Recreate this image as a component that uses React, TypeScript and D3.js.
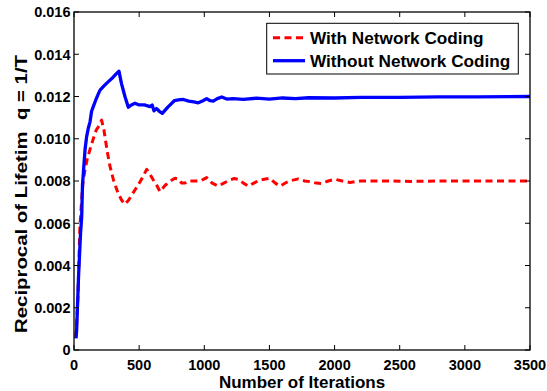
import React from "react";
import * as d3 from "d3";

// iterations and reciprocal lifetime
const codingIter = [15, 30, 45, 60, 70, 84, 100, 123, 148, 170, 187, 212, 230, 255, 276, 305, 340, 365, 391, 420, 450, 481, 520, 558, 585, 609, 635, 660, 700, 740, 775, 800, 826, 850, 877, 929, 970, 1018, 1060, 1107, 1150, 1197, 1230, 1261, 1300, 1338, 1380, 1427, 1504, 1545, 1581, 1650, 1722, 1770, 1811, 1860, 1901, 1950, 2003, 2060, 2118, 2200, 2400, 2600, 2800, 3000, 3200, 3500];
const codingQ = [0.0006, 0.0025, 0.0058, 0.0072, 0.008, 0.0085, 0.009, 0.0095, 0.01, 0.0104, 0.01057, 0.01088, 0.0104, 0.0094, 0.0087, 0.008, 0.0074, 0.0071, 0.0069, 0.0071, 0.0074, 0.0077, 0.0081, 0.00855, 0.0083, 0.00805, 0.0078, 0.0075, 0.0078, 0.008, 0.00813, 0.0081, 0.0079, 0.0079, 0.008, 0.008, 0.008, 0.00816, 0.0079, 0.00776, 0.0079, 0.00805, 0.00812, 0.00808, 0.0079, 0.00776, 0.0079, 0.00805, 0.00813, 0.0079, 0.00776, 0.008, 0.0081, 0.008, 0.00797, 0.0079, 0.00788, 0.008, 0.00808, 0.008, 0.00793, 0.008, 0.008, 0.00798, 0.008, 0.008, 0.008, 0.008];

const plainIter = [15, 20, 35, 50, 59, 65, 72, 85, 97, 110, 123, 135, 148, 165, 185, 200, 230, 260, 290, 320, 345, 365, 391, 417, 440, 468, 500, 540, 583, 600, 614, 634, 655, 678, 720, 770, 814, 840, 880, 920, 954, 990, 1018, 1045, 1069, 1100, 1134, 1172, 1220, 1300, 1400, 1500, 1600, 1700, 1800, 2000, 2200, 2500, 2800, 3100, 3500];
const plainQ = [0.00055, 0.0009, 0.0035, 0.0055, 0.0063, 0.0078, 0.0084, 0.0095, 0.0101, 0.0105, 0.0108, 0.0113, 0.01152, 0.0118, 0.0121, 0.0123, 0.0125, 0.01268, 0.01285, 0.01305, 0.0132, 0.0126, 0.012, 0.01149, 0.0116, 0.01168, 0.0116, 0.0116, 0.01152, 0.0116, 0.01132, 0.01143, 0.0113, 0.0112, 0.0115, 0.0118, 0.01185, 0.01186, 0.01178, 0.01174, 0.0117, 0.0118, 0.0119, 0.0118, 0.01178, 0.0119, 0.01198, 0.01188, 0.0119, 0.01186, 0.01192, 0.01188, 0.01193, 0.0119, 0.01194, 0.01193, 0.01196, 0.01196, 0.01198, 0.01198, 0.012];

const seriesNames = ["With Network Coding", "Without Network Coding"];
const xTicks = [0, 500, 1000, 1500, 2000, 2500, 3000, 3500];
const yTicks = [0, 0.002, 0.004, 0.006, 0.008, 0.01, 0.012, 0.014, 0.016];

const W = 547;
const H = 391;
const m = { left: 74, right: 530, top: 12, bottom: 350 };
const font = "'Liberation Sans', Arial, Helvetica, sans-serif";

export default function App() {
  const x = d3.scaleLinear().domain([0, 3500]).range([m.left, m.right]);
  const y = d3.scaleLinear().domain([0, 0.016]).range([m.bottom, m.top]);

  const path = (iters: number[], qs: number[]) =>
    d3
      .line<number>()
      .x((d) => x(d))
      .y((d, i) => y(qs[i]))(iters) || "";

  const tick = 5;

  return (
    <svg
      width={W}
      height={H}
      style={{ position: "absolute", left: 0, top: 0, background: "#fff" }}
      fontFamily={font}
      fontWeight="bold"
    >
      <rect x={0} y={0} width={W} height={H} fill="#fff" />
      <defs>
        <clipPath id="plot">
          <rect x={m.left} y={m.top} width={m.right - m.left} height={m.bottom - m.top} />
        </clipPath>
      </defs>

      <g clipPath="url(#plot)">
        <path d={path(codingIter, codingQ)} fill="none" stroke="#ff0000" strokeWidth={3} strokeDasharray="7,4.5" strokeLinejoin="round" />
        <path d={path(plainIter, plainQ)} fill="none" stroke="#0000ff" strokeWidth={3.3} strokeLinejoin="round" />
      </g>

      {/* frame and ticks */}
      <rect x={m.left} y={m.top} width={m.right - m.left} height={m.bottom - m.top} fill="none" stroke="#000" strokeWidth={1.3} />
      {xTicks.map((t) => (
        <g key={"x" + t}>
          <line x1={x(t)} x2={x(t)} y1={m.bottom} y2={m.bottom - tick} stroke="#000" />
          <line x1={x(t)} x2={x(t)} y1={m.top} y2={m.top + tick} stroke="#000" />
          <text x={x(t)} y={370} textAnchor="middle" fontSize={14.5}>
            {t}
          </text>
        </g>
      ))}
      {yTicks.map((t) => (
        <g key={"y" + t}>
          <line x1={m.left} x2={m.left + tick} y1={y(t)} y2={y(t)} stroke="#000" />
          <line x1={m.right} x2={m.right - tick} y1={y(t)} y2={y(t)} stroke="#000" />
          <text x={70.5} y={y(t) + 5.3} textAnchor="end" fontSize={14.5}>
            {t === 0 ? "0" : t.toFixed(3)}
          </text>
        </g>
      ))}

      <text x={(m.left + m.right) / 2} y={388} textAnchor="middle" fontSize={17}>
        Number of Iterations
      </text>
      <text
        transform={`translate(27,194) rotate(-90)`}
        textAnchor="middle"
        fontSize={16.5}
        textLength={278}
        lengthAdjust="spacingAndGlyphs"
        style={{ whiteSpace: "pre" }}
      >
        {"Reciprocal of Lifetim  q = 1/T"}
      </text>

      {/* legend */}
      <rect x={266.7} y={23.3} width={251.6} height={50.7} fill="#fff" stroke="#000" strokeWidth={1} />
      <line x1={273} x2={305} y1={37.7} y2={37.7} stroke="#ff0000" strokeWidth={3} strokeDasharray="7,4.5" />
      <line x1={273} x2={305} y1={60.7} y2={60.7} stroke="#0000ff" strokeWidth={3.3} />
      <text x={310} y={43.7} fontSize={17.2}>
        {seriesNames[0]}
      </text>
      <text x={310} y={66.7} fontSize={17.2}>
        {seriesNames[1]}
      </text>
    </svg>
  );
}
